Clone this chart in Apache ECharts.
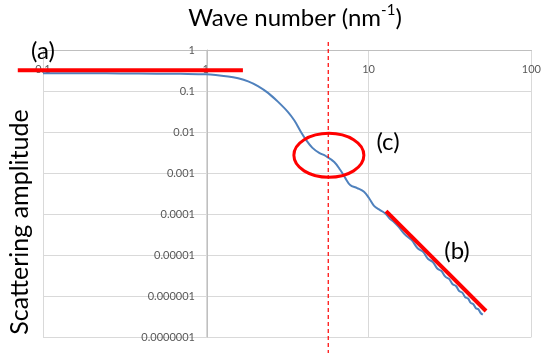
<!DOCTYPE html>
<html>
<head>
<meta charset="utf-8">
<script src="https://cdn.jsdelivr.net/npm/echarts@6/dist/echarts.min.js"></script>
<style>
  html, body { margin: 0; padding: 0; background: #fff; }
  #chart { width: 544px; height: 360px; }
</style>
</head>
<body>
<div id="chart"></div>
<script>
// wave number (nm^-1) and scattering amplitude
const q = [
  0.1, 0.2, 0.3, 0.5, 0.7, 1.0, 1.37, 1.58, 1.82, 2.09, 2.41, 2.77, 3.19, 3.5, 3.84, 4.12, 4.52, 4.97,
  5.45, 6.15, 6.7, 7.18, 7.7, 8.5, 9.37, 10.05, 10.8, 11.7, 12.3, 12.9, 13.5, 14.3,
  15.2, 16.8, 18.4, 20, 21.6, 23.2, 24.8, 26.4, 28, 29.6, 31.2, 32.8, 34.4, 36,
  37.6, 39.2, 40.8, 42.4, 44, 45.6, 47.2, 48.8, 50.3
];
const amplitude = [
  0.27, 0.27, 0.268, 0.265, 0.262, 0.255, 0.226, 0.204, 0.172, 0.132, 0.09, 0.055, 0.031, 0.019, 0.01, 0.0065, 0.0041, 0.0031,
  0.0026, 0.00186, 0.00118, 0.00076, 0.00051, 0.00043, 0.00035, 0.000245, 0.000158, 0.000126, 0.000112, 0.000095, 0.000076, 0.000064,
  5.0e-5, 3.1e-5, 2.3e-5, 1.46e-5, 1.19e-5, 7.96e-6, 6.75e-6, 4.68e-6, 4.06e-6, 2.96e-6, 2.61e-6, 1.94e-6, 1.75e-6, 1.32e-6,
  1.21e-6, 9.35e-7, 8.68e-7, 6.79e-7, 6.31e-7, 5.03e-7, 4.74e-7, 3.85e-7, 3.51e-7
];
const xTickLabels = ['0.1', '1', '10', '100'];
const yTickLabels = ['1', '0.1', '0.01', '0.001', '0.0001', '0.00001', '0.000001', '0.0000001'];

// annotation anchors, in data units
const lineA = [[0.07, 0.32], [1.69, 0.32]];
const lineB = [[12.8, 1.18e-4], [52.6, 4.3e-7]];
const guide = [[5.65, 1.57], [5.65, 4.1e-8]];
const ringCenter = [5.7, 0.0027];

const font = 'Lato';
const chart = echarts.init(document.getElementById('chart'));

const option = {
  animation: false,
  grid: { left: 43, right: 8, top: 50, bottom: 23 },
  xAxis: {
    type: 'log',
    logBase: 10,
    min: 0.1,
    max: 100,
    splitNumber: 3,
    position: 'top',
    axisLine: { show: true, onZero: false, lineStyle: { color: '#bfbfbf', width: 1 } },
    axisTick: { show: false },
    axisLabel: {
      inside: true,
      margin: 14,
      color: '#595959',
      fontSize: 11,
      fontFamily: font,
      formatter: v => xTickLabels[Math.round(Math.log10(v)) + 1]
    },
    splitLine: { show: true, lineStyle: { color: '#d9d9d9', width: 1 } }
  },
  yAxis: {
    type: 'log',
    logBase: 10,
    min: 1e-7,
    max: 1,
    splitNumber: 7,
    offset: -164, // axis crosses at wave number 1
    axisLine: { show: true, onZero: false, lineStyle: { color: '#bfbfbf', width: 1 } },
    axisTick: { show: false },
    axisLabel: {
      margin: 12,
      color: '#595959',
      fontSize: 11,
      fontFamily: font,
      formatter: v => yTickLabels[Math.round(-Math.log10(v))]
    },
    splitLine: { show: true, lineStyle: { color: '#d9d9d9', width: 1 } }
  },
  series: [
    {
      type: 'line',
      data: q.map((x, i) => [x, amplitude[i]]),
      smooth: 0.35,
      showSymbol: false,
      lineStyle: { color: '#4f81bd', width: 2 },
      z: 3
    }
  ]
};
chart.setOption(option);

function px(p) {
  return chart.convertToPixel({ gridIndex: 0 }, p);
}
const a0 = px(lineA[0]), a1 = px(lineA[1]);
const b0 = px(lineB[0]), b1 = px(lineB[1]);
const g0 = px(guide[0]), g1 = px(guide[1]);
const rc = px(ringCenter);

chart.setOption({
  graphic: [
    {
      type: 'text', z: 100,
      style: {
        x: 295, y: 18, align: 'center', verticalAlign: 'middle',
        text: '{a|Wave number (nm}{s|-1}{a|)}',
        rich: {
          a: { fontSize: 24, fontFamily: font, fill: '#000', lineHeight: 30 },
          s: { fontSize: 15, fontFamily: font, fill: '#000', verticalAlign: 'top', lineHeight: 16 }
        }
      }
    },
    {
      type: 'text', z: 100, rotation: Math.PI / 2, x: 20, y: 222,
      style: {
        text: 'Scattering amplitude', align: 'center', verticalAlign: 'middle',
        fontSize: 25, fontFamily: font, fill: '#000'
      }
    },
    {
      type: 'line', z: 100,
      shape: { x1: g0[0], y1: g0[1], x2: g1[0], y2: g1[1] },
      style: { stroke: '#ff0000', lineWidth: 1.2, lineDash: [4, 3] }
    },
    {
      type: 'line', z: 100,
      shape: { x1: a0[0], y1: a0[1], x2: a1[0], y2: a1[1] },
      style: { stroke: '#ff0000', lineWidth: 4 }
    },
    {
      type: 'line', z: 100,
      shape: { x1: b0[0], y1: b0[1], x2: b1[0], y2: b1[1] },
      style: { stroke: '#ff0000', lineWidth: 4 }
    },
    {
      type: 'ellipse', z: 100,
      shape: { cx: rc[0], cy: rc[1], rx: 35, ry: 22 },
      style: { fill: 'none', stroke: '#ff0000', lineWidth: 3 }
    },
    {
      type: 'text', z: 100,
      style: { x: 43, y: 51, text: '(a)', align: 'center', verticalAlign: 'middle', fontSize: 24, fontFamily: font, fill: '#000' }
    },
    {
      type: 'text', z: 100,
      style: { x: 457, y: 251, text: '(b)', align: 'center', verticalAlign: 'middle', fontSize: 24, fontFamily: font, fill: '#000' }
    },
    {
      type: 'text', z: 100,
      style: { x: 388, y: 142, text: '(c)', align: 'center', verticalAlign: 'middle', fontSize: 24, fontFamily: font, fill: '#000' }
    }
  ]
});
</script>
</body>
</html>
